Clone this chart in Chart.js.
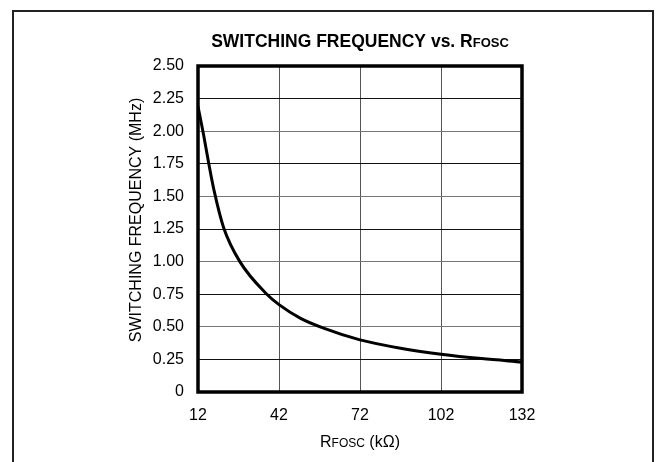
<!DOCTYPE html>
<html>
<head>
<meta charset="utf-8">
<script src="https://cdn.jsdelivr.net/npm/chart.js@4.4.1/dist/chart.umd.min.js"></script>
<style>
  html, body { margin: 0; padding: 0; background: #fff; }
  #wrap { width: 656px; height: 462px; position: relative; }
</style>
</head>
<body>
<div id="wrap"><canvas id="c"></canvas></div>
<script>
  // curve, R in kOhm, f in MHz
  const rfosc = [12, 14, 16, 18, 21.5, 27.5, 37.5, 42, 50, 58.5, 72, 87, 102, 117, 132];
  const freq = [2.19, 1.98, 1.75, 1.54, 1.26, 1.0, 0.75, 0.67, 0.565, 0.49, 0.40, 0.336, 0.29, 0.256, 0.23];

  const xTicks = [12, 42, 72, 102, 132];
  const yTicks = [0, 0.25, 0.5, 0.75, 1.0, 1.25, 1.5, 1.75, 2.0, 2.25, 2.5];
  const yTickLabels = ['0', '0.25', '0.50', '0.75', '1.00', '1.25', '1.50', '1.75', '2.00', '2.25', '2.50'];

  const FONT = "'Liberation Sans', Arial, sans-serif";

  // draw text made of parts (main + smaller "subscript" bits), centred on x
  function drawParts(ctx, parts, x, y, rotate) {
    ctx.save();
    ctx.translate(x, y);
    if (rotate) ctx.rotate(-Math.PI / 2);
    let total = 0;
    parts.forEach((p) => {
      ctx.font = p.font;
      total += ctx.measureText(p.t).width;
    });
    let cx = -total / 2;
    ctx.fillStyle = '#000';
    ctx.textBaseline = 'alphabetic';
    ctx.textAlign = 'left';
    parts.forEach((p) => {
      ctx.font = p.font;
      ctx.fillText(p.t, cx, 0);
      cx += ctx.measureText(p.t).width;
    });
    ctx.restore();
  }

  const decor = {
    id: 'decor',
    afterDraw(chart) {
      const { ctx, chartArea: a } = chart;
      const midX = (a.left + a.right) / 2;
      // outer frame (open at the bottom)
      ctx.save();
      ctx.strokeStyle = '#222';
      ctx.lineWidth = 2;
      ctx.beginPath();
      ctx.moveTo(13, 462);
      ctx.lineTo(13, 11);
      ctx.lineTo(653, 11);
      ctx.lineTo(653, 462);
      ctx.stroke();
      // plot frame
      ctx.strokeStyle = '#000';
      ctx.lineWidth = 3.5;
      ctx.strokeRect(a.left, a.top, a.right - a.left, a.bottom - a.top);
      ctx.restore();

      drawParts(ctx, [
        { t: 'SWITCHING FREQUENCY vs. R', font: `bold 17.5px ${FONT}` },
        { t: 'FOSC', font: `bold 13px ${FONT}` },
      ], midX, 47);

      drawParts(ctx, [
        { t: 'R', font: `16px ${FONT}` },
        { t: 'FOSC', font: `12px ${FONT}` },
        { t: ' (k\u03A9)', font: `16px ${FONT}` },
      ], midX, 447);

      drawParts(ctx, [
        { t: 'SWITCHING FREQUENCY (MHz)', font: `16px ${FONT}` },
      ], 141, 220, true);
    },
  };

  new Chart(document.getElementById('c'), {
    type: 'scatter',
    data: {
      datasets: [{
        data: rfosc.map((r, i) => ({ x: r, y: freq[i] })),
        showLine: true,
        borderColor: '#000',
        borderWidth: 3,
        pointRadius: 0,
        cubicInterpolationMode: 'monotone',
        fill: false,
      }],
    },
    options: {
      responsive: true,
      maintainAspectRatio: false,
      animation: false,
      layout: { padding: { left: 0, right: 134, top: 66, bottom: 40 } },
      plugins: { legend: { display: false }, tooltip: { enabled: false } },
      scales: {
        x: {
          type: 'linear',
          min: 12,
          max: 132,
          afterBuildTicks: (s) => { s.ticks = xTicks.map((v) => ({ value: v })); },
          afterFit: (s) => { s.height = 30; },
          grid: { color: '#555', lineWidth: 1, drawTicks: false },
          border: { display: false },
          ticks: { color: '#000', font: { family: FONT, size: 16 }, padding: 14, maxRotation: 0,
            callback: (v) => String(v) },
        },
        y: {
          min: 0,
          max: 2.5,
          afterBuildTicks: (s) => { s.ticks = yTicks.map((v) => ({ value: v })); },
          afterFit: (s) => { s.width = 198; },
          grid: { color: (c) => (c.index % 2 ? '#111' : '#777'), lineWidth: 1, drawTicks: false },
          border: { display: false },
          ticks: { color: '#000', font: { family: FONT, size: 16 }, padding: 14,
            callback: (v) => yTickLabels[yTicks.indexOf(v)] },
        },
      },
    },
    plugins: [decor],
  });
</script>
</body>
</html>
